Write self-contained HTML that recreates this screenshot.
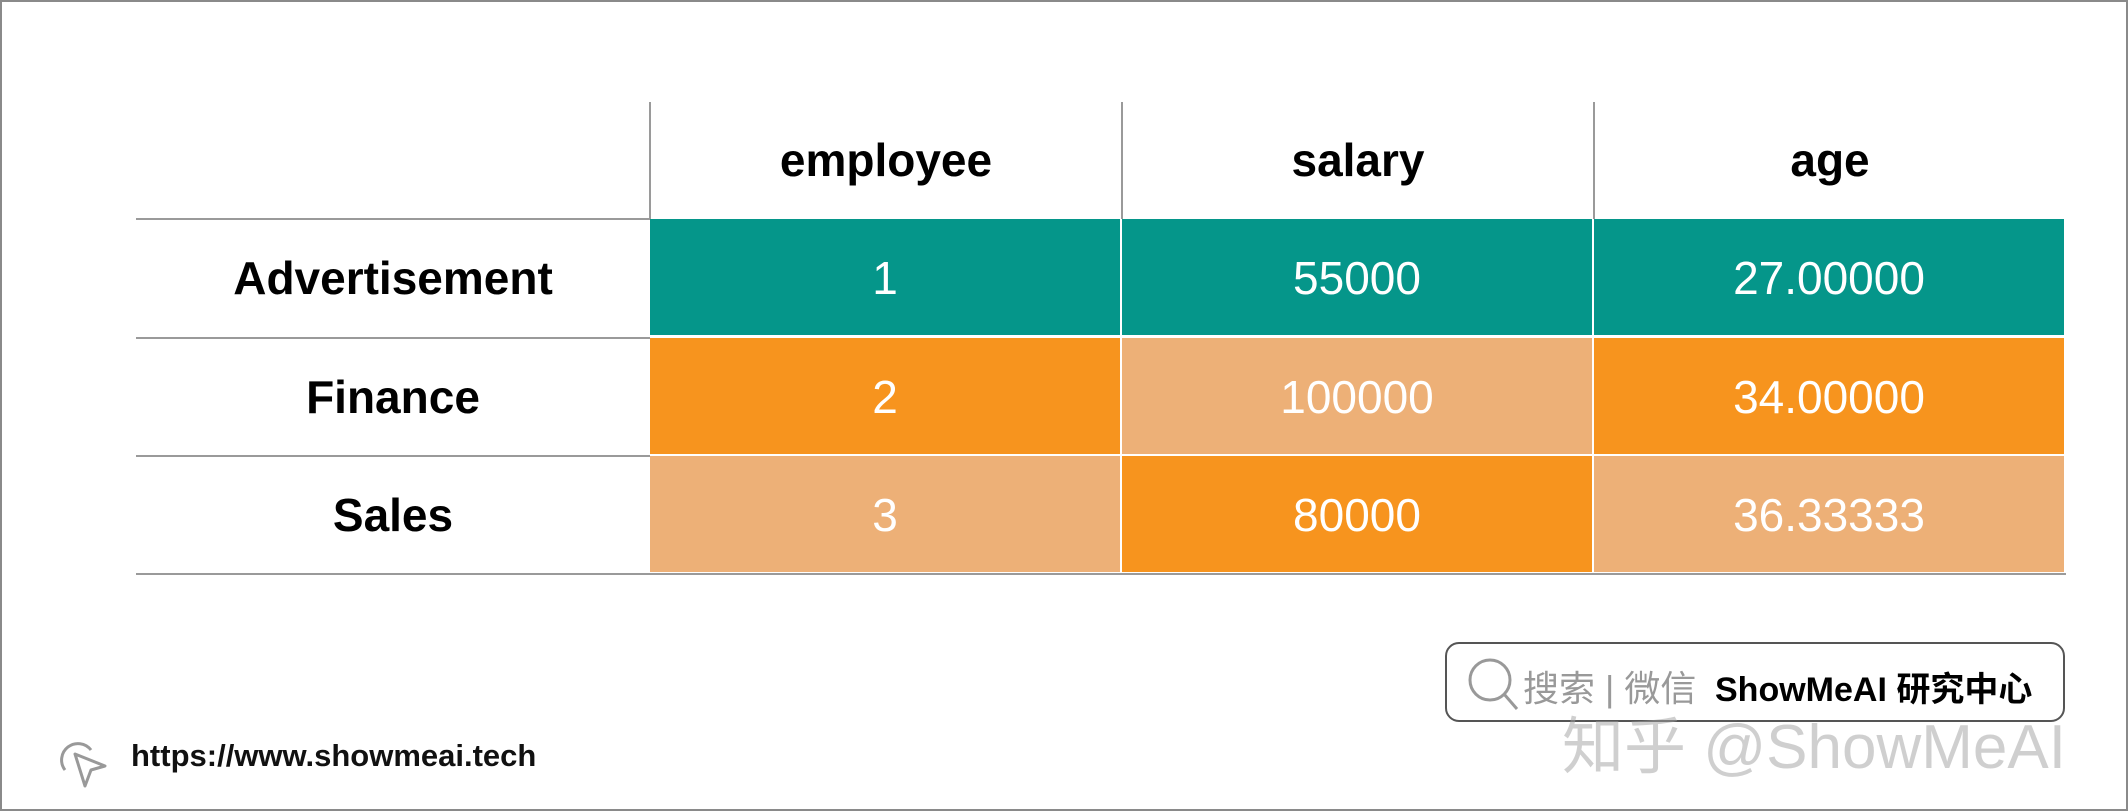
<!DOCTYPE html>
<html><head><meta charset="utf-8">
<style>
body{margin:0;width:2128px;height:811px;background:#fff;position:relative;overflow:hidden;font-family:"Liberation Sans","Noto Sans CJK SC",sans-serif}
#frame{position:absolute;left:0;top:0;width:2124px;height:807px;border:2px solid #8a8a8a}
.abs{position:absolute}
.hdr{position:absolute;top:102px;height:117px;line-height:117px;text-align:center;font-weight:bold;font-size:46px;color:#000}
.vline{position:absolute;width:2px;background:#9a9a9a}
.hline{position:absolute;height:2px;background:#9a9a9a}
.rlab{position:absolute;left:136px;width:514px;text-align:center;font-weight:bold;font-size:46px;color:#000}
.cell{position:absolute;text-align:center;color:#fff;font-size:46px;box-sizing:border-box;border-right:2px solid #fff;border-bottom:2px solid #fff}
</style></head><body>
<div id="frame"></div>
<div id="table"></div>
<svg class="abs" style="left:55px;top:736px" width="56" height="54">
<path d="M10 34 A16 16 0 1 1 36 14" fill="none" stroke="#999" stroke-width="3"/>
<path d="M20 18 L50 30 L36 34 L30 50 Z" fill="#fff" stroke="#999" stroke-width="3" stroke-linejoin="round"/>
</svg>
<div class="abs" style="left:131px;top:738px;font-size:31px;color:#111;font-weight:bold">https://www.showmeai.tech</div>
<div class="abs" style="left:1445px;top:642px;width:620px;height:80px;border:2px solid #555;border-radius:14px;box-sizing:border-box"></div>
<svg class="abs" style="left:1465px;top:655px" width="60" height="60">
<circle cx="25" cy="25" r="20" fill="none" stroke="#999" stroke-width="3"/><line x1="39" y1="39" x2="52" y2="54" stroke="#999" stroke-width="3"/>
</svg>
<div class="abs" style="left:1523px;top:660px;font-size:36px;color:#999">搜索 | 微信</div>
<div class="abs" style="left:1715px;top:662px;font-size:34px;color:#000;font-weight:bold">ShowMeAI 研究中心</div>
<div class="abs" style="left:1562px;top:696px;font-size:62px;color:rgba(160,160,160,0.5);white-space:nowrap">知乎 @ShowMeAI</div>
<script>
const columns=["employee","salary","age"];
const rows=["Advertisement","Finance","Sales"];
const employeeVals=["1","2","3"];
const salaryVals=["55000","100000","80000"];
const ageVals=["27.00000","34.00000","36.33333"];
const employeeColors=["teal","orange","light"];
const salaryColors=["teal","light","orange"];
const ageColors=["teal","orange","light"];
const palette={teal:"#05968A",orange:"#F7941E",light:"#EDB077"};
const t=document.getElementById('table');
const colX=[650,1122,1594], colW=472, rowY=[219,338,456], rowH=118;
const vals=[employeeVals,salaryVals,ageVals], cols=[employeeColors,salaryColors,ageColors];
columns.forEach((c,i)=>{
 const h=document.createElement('div');h.className='hdr';
 
 
 h.style.left=colX[i]+'px';h.style.width=colW+'px';h.textContent=c;t.appendChild(h);
 const v=document.createElement('div');v.className='vline';
 
 
 v.style.left=(colX[i]-1)+'px';v.style.top='102px';v.style.height='117px';t.appendChild(v);
});
rows.forEach((r,j)=>{
 const y=rowY[j];
 const l=document.createElement('div');l.className='rlab';
 
 
 l.style.top=y+'px';l.style.height=rowH+'px';l.style.lineHeight=rowH+'px';l.textContent=r;t.appendChild(l);
 const hl=document.createElement('div');hl.className='hline';
 
 
 hl.style.left='136px';hl.style.width='514px';hl.style.top=(y-1)+'px';t.appendChild(hl);
 columns.forEach((c,i)=>{
  const d=document.createElement('div');d.className='cell';
  
  
  d.style.left=colX[i]+'px';d.style.top=y+'px';d.style.width=colW+'px';d.style.height=rowH+'px';
  d.style.lineHeight=rowH+'px';d.style.background=palette[cols[i][j]];d.textContent=vals[i][j];t.appendChild(d);
 });
});
const b=document.createElement('div');b.className='hline';


b.style.left='136px';b.style.width='1930px';b.style.top='573px';t.appendChild(b);
</script>
</body></html>
